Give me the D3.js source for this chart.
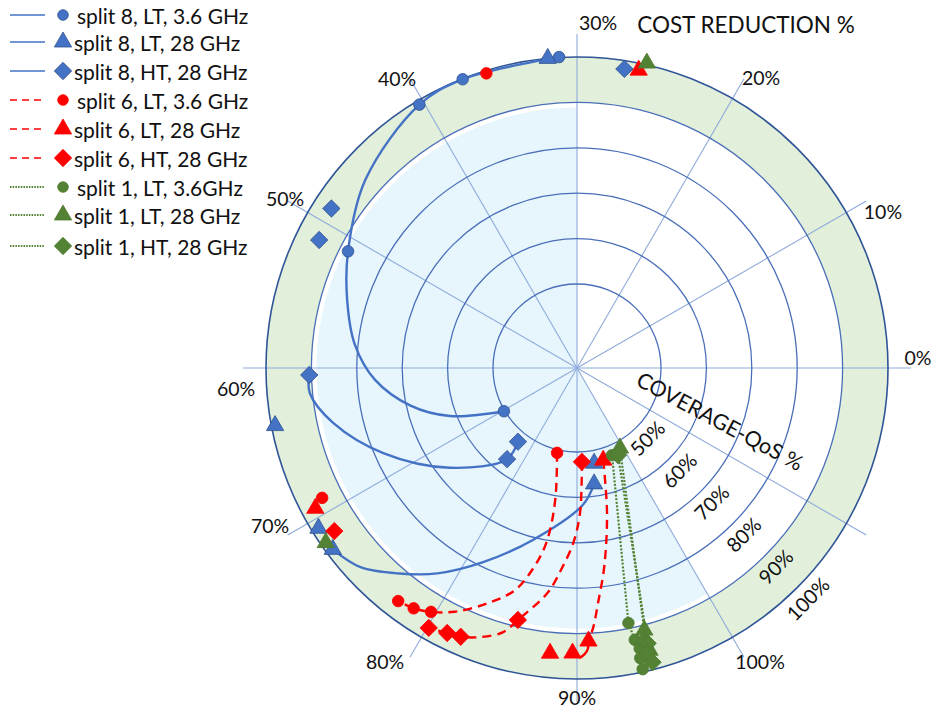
<!DOCTYPE html>
<html><head><meta charset="utf-8">
<script src="https://cdn.jsdelivr.net/npm/d3@7"></script>
<style>
html,body{margin:0;padding:0;background:#fff;}
svg{display:block;font-family:Lato,"Open Sans",sans-serif;}
</style></head>
<body>
<svg id="chart" width="938" height="709"></svg>
<script>
// ---------- data (cost reduction %, coverage-QoS %) ----------
const costTicks = [0,10,20,30,40,50,60,70,80,90,100];
const spokeTicks = [0,10,20,30,40,50,60,70,80,90,100,110];
const covTicks = [50,60,70,80,90,100];
const axisTitleCost = "COST REDUCTION %";
const axisTitleCov = "COVERAGE-QoS %";

const legendLabels = [
  "split 8, LT, 3.6 GHz","split 8, LT, 28 GHz","split 8, HT, 28 GHz",
  "split 6, LT, 3.6 GHz","split 6, LT, 28 GHz","split 6, HT, 28 GHz",
  "split 1, LT, 3.6GHz","split 1, LT, 28 GHz","split 1, HT, 28 GHz"
];

// markers
const s8LT36Pts = [[31.1,100.1],[37.2,99.9],[40.3,99.1],[51.0,88.1],[70.2,50.2]];
const s8LT28Pts = [[31.8,100.0],[63.6,99.2],[70.6,98.5],[72.2,98.5],[93.4,52.8],[92.8,57.3]];
const s8HT28Pts = [[27.0,98.2],[49.0,96.0],[51.2,94.9],[60.5,90.5],[77.5,56.8],[77.1,52.3]];
const s6LT36Pts = [[35.7,99.4],[69.0,94.5],[85.6,50.7],[77.5,96.2],[78.6,95.5],[79.7,94.1]];
const s6LT28Pts = [[26.1,98.5],[69.4,96.9],[95.3,52.6],[88.2,94.6],[89.7,94.3],[90.8,91.7]];
const s6HT28Pts = [[71.3,95.9],[91.0,52.2],[85.6,88.5],[82.2,96.0],[81.3,96.5],[80.1,97.4]];
const s1LT36Pts = [[97.3,52.2],[93.8,88.8],[94.0,92.7],[94.2,94.8],[94.1,96.9],[94.1,99.4]];
const s1LT28Pts = [[25.7,100.4],[71.6,98.9],[99.4,51.5],[94.8,91.1],[94.6,93.2],[94.8,95.7]];
const s1HT28Pts = [[98.4,52.7],[94.8,94.1],[94.6,96.2],[94.8,98.4]];

// lines
const s8LT36Line = [[31.1,100.1],[37.2,99.9],[40.3,99.1],[46.1,93.9],[51.0,88.1],[54.5,84.3],[58.0,80.7],[61.1,76.1],[64.2,69.2],[66.9,61.4],[70.2,50.2]];
const s8LT28Line = [[72.2,98.5],[74.2,96.3],[76.4,91.3],[78.6,86.2],[81.4,79.0],[85.2,70.6],[90.8,61.7],[92.8,57.3]];
const s8HT28Line = [[60.5,90.5],[61.8,90.6],[64.2,86.6],[67.9,78.1],[72.7,67.1],[77.5,56.8],[77.1,52.3]];
const s6LT36Line = [[85.6,50.7],[86.8,59.4],[86.9,66.1],[86.6,71.5],[85.9,76.6],[84.8,82.3],[83.0,87.1],[81.1,91.6],[79.7,94.1],[78.6,95.5],[77.5,96.2]];
const s6LT28Line = [[95.3,52.6],[93.9,64.1],[92.6,75.7],[91.7,83.5],[91.2,88.7],[90.8,91.7]];
const s6LT28Hook = [[90.8,91.7],[90.7,93.7],[90.2,95.2],[89.7,94.3]];
const s6HT28Line = [[91.0,52.2],[90.4,63.4],[89.6,70.0],[88.6,75.5],[87.5,81.5],[85.6,88.5],[84.8,91.9],[83.4,94.5],[82.2,96.0],[81.3,96.5],[80.1,97.4]];
const s1LT36Line = [[97.3,52.2],[93.8,88.8],[94.0,92.7],[94.1,96.9],[94.1,99.4]];
const s1LT28Line = [[99.4,51.5],[94.8,91.1],[94.8,95.7]];
const s1HT28Line = [[98.4,52.7],[94.8,94.1],[94.8,98.4]];

// ---------- layout / styles ----------
const costLabelNudge = [[-3,-11],[8,15],[12,7],[21,-2],[-8,8],[6,2],[3,20],[-9,-15],[-20,-4],[0,-15],[11,-4]];
const BLUE = "#4472c4", BLUE_D = "#2f528f", RED = "#ff0000", GREEN = "#548235";
const styles = {
  s8:{color:BLUE, dash:null, width:2.4},
  s6:{color:RED, dash:"9,6", width:2.4},
  s1:{color:GREEN, dash:"2,1.6", width:2.2}
};

const series = [
  {name:legendLabels[0], group:"s8", shape:"circle", pts:s8LT36Pts, lines:[s8LT36Line]},
  {name:legendLabels[1], group:"s8", shape:"triangle", pts:s8LT28Pts, lines:[s8LT28Line]},
  {name:legendLabels[2], group:"s8", shape:"diamond", pts:s8HT28Pts, lines:[s8HT28Line]},
  {name:legendLabels[3], group:"s6", shape:"circle", pts:s6LT36Pts, lines:[s6LT36Line]},
  {name:legendLabels[4], group:"s6", shape:"triangle", pts:s6LT28Pts, lines:[s6LT28Line], solid:[s6LT28Hook]},
  {name:legendLabels[5], group:"s6", shape:"diamond", pts:s6HT28Pts, lines:[s6HT28Line]},
  {name:legendLabels[6], group:"s1", shape:"circle", pts:s1LT36Pts, lines:[s1LT36Line]},
  {name:legendLabels[7], group:"s1", shape:"triangle", pts:s1LT28Pts, lines:[s1LT28Line]},
  {name:legendLabels[8], group:"s1", shape:"diamond", pts:s1HT28Pts, lines:[s1HT28Line]}
];

// ---------- geometry ----------
const cx = 577, cy = 368;
const angle = d3.scaleLinear().domain([0,100]).range([Math.PI/2, Math.PI/2 - 5*Math.PI/3]);
const radius = d3.scaleLinear().domain([50,100]).range([84,311]);
const xy = (a, r) => [r*Math.sin(a), -r*Math.cos(a)];

const svg = d3.select("#chart");
const g = svg.append("g").attr("transform", `translate(${cx},${cy})`);

// fills
g.append("path")
  .attr("d", d3.arc().innerRadius(radius(90)).outerRadius(radius(100)).startAngle(0).endAngle(2*Math.PI)())
  .attr("fill", "#e2efda");
g.append("path")
  .attr("d", d3.arc().innerRadius(0).outerRadius(radius(90)-5).startAngle(angle(100)).endAngle(angle(30))())
  .attr("fill", "#e7f6fd");

// spokes
g.selectAll("line.spoke").data(spokeTicks).join("line")
  .attr("class","spoke")
  .attr("x1",0).attr("y1",0)
  .attr("x2", d => xy(angle(d), 334)[0])
  .attr("y2", d => xy(angle(d), 334)[1])
  .attr("stroke", "#8eaadb").attr("stroke-width", 1.1);

// rings
g.selectAll("circle.ring").data(covTicks).join("circle")
  .attr("class","ring")
  .attr("r", d => radius(d))
  .attr("fill","none")
  .attr("stroke", d => d===100 ? "#2f5597" : "#4a6fb8")
  .attr("stroke-width", d => d===100 ? 1.6 : 1.3);

// cost tick labels
g.selectAll("text.costTick").data(costTicks).join("text")
  .attr("class","costTick")
  .attr("x", (d,i) => xy(angle(d), 344)[0] + costLabelNudge[i][0])
  .attr("y", (d,i) => xy(angle(d), 344)[1] + costLabelNudge[i][1])
  .attr("text-anchor","middle").attr("dominant-baseline","central")
  .attr("font-size", 19.5).attr("fill","#111")
  .text(d => d + "%");

// coverage ring labels along -45 deg
const labA = Math.PI*3/4;
g.selectAll("text.covTick").data(covTicks).join("text")
  .attr("class","covTick")
  .attr("transform", d => {const p = xy(labA, radius(d)+15); return `translate(${p[0]},${p[1]}) rotate(-45)`;})
  .attr("text-anchor","middle").attr("dominant-baseline","central")
  .attr("font-size", 20).attr("fill","#111")
  .text(d => d + "%");

// axis titles
svg.append("text").attr("x", 746).attr("y", 24)
  .attr("text-anchor","middle").attr("dominant-baseline","central")
  .attr("font-size", 22.5).attr("fill","#111").text(axisTitleCost);
svg.append("text")
  .attr("transform", "translate(720,421) rotate(28)")
  .attr("text-anchor","middle").attr("dominant-baseline","central")
  .attr("font-size", 21.5).attr("fill","#111").text(axisTitleCov);

// series lines
const line = d3.lineRadial()
  .angle(d => angle(d[0])).radius(d => radius(d[1]))
  .curve(d3.curveCatmullRom.alpha(0.5));
const lineStraight = d3.lineRadial()
  .angle(d => angle(d[0])).radius(d => radius(d[1]));

series.forEach(s => {
  const st = styles[s.group];
  const gen = s.group === "s1" ? lineStraight : line;
  s.lines.forEach(L => {
    g.append("path").attr("d", gen(L))
      .attr("fill","none").attr("stroke", st.color)
      .attr("stroke-width", st.width)
      .attr("stroke-dasharray", st.dash);
  });
  (s.solid || []).forEach(L => {
    g.append("path").attr("d", line(L))
      .attr("fill","none").attr("stroke", st.color).attr("stroke-width", st.width);
  });
});

// markers
const symFor = (shape, k) => shape === "circle" ? d3.symbol(d3.symbolCircle, 105*k)
  : shape === "triangle" ? d3.symbol(d3.symbolTriangle, 130*k)
  : d3.symbol(d3.symbolSquare, 150*k);
const strokeFor = grp => grp === "s8" ? BLUE_D : grp === "s6" ? RED : "#4e7a30";

series.forEach(s => {
  const st = styles[s.group];
  g.selectAll(null).data(s.pts).join("path")
    .attr("d", symFor(s.shape, 1)())
    .attr("transform", d => {
      const p = xy(angle(d[0]), radius(d[1]));
      return `translate(${p[0]},${p[1]})` + (s.shape==="diamond" ? " rotate(45)" : "");
    })
    .attr("fill", st.color)
    .attr("stroke", strokeFor(s.group)).attr("stroke-width", 0.8);
});

// legend
const legRows = [15, 42, 71, 100, 129, 158, 187, 215, 246];
const leg = svg.append("g");
series.forEach((s, i) => {
  const st = styles[s.group];
  const y = legRows[i];
  leg.append("line").attr("x1", 10).attr("x2", 45).attr("y1", y).attr("y2", y)
    .attr("stroke", st.color).attr("stroke-width", s.group==="s1" ? 1.8 : 1.6)
    .attr("stroke-dasharray", s.group==="s6" ? "7,5" : s.group==="s1" ? "1.5,1.2" : null);
  leg.append("path").attr("d", symFor(s.shape, s.shape==="circle" ? 0.85 : 1)())
    .attr("transform", `translate(63,${y})` + (s.shape==="diamond" ? " rotate(45)" : ""))
    .attr("fill", st.color).attr("stroke", strokeFor(s.group)).attr("stroke-width", 0.8);
  leg.append("text").attr("x", s.shape==="circle" ? 77 : 74).attr("y", y)
    .attr("dominant-baseline","central").attr("font-size", 21).attr("fill","#111")
    .text(s.name);
});
</script>
</body></html>
